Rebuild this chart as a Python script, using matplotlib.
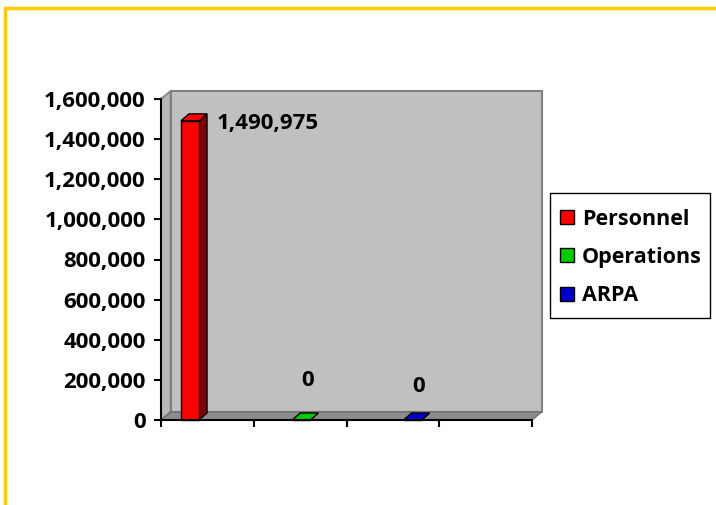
import matplotlib
matplotlib.use("Agg")
import matplotlib.pyplot as plt
from matplotlib.patches import Polygon, Rectangle
from matplotlib.lines import Line2D

# Data
series = ["Personnel", "Operations", "ARPA"]
values = [1490975, 0, 0]
colors = ["#FF0000", "#00CC00", "#0000CC"]
side_colors = ["#800000", "#006600", "#000066"]
yticks = [0, 200000, 400000, 600000, 800000, 1000000, 1200000, 1400000, 1600000]

plt.rcParams["font.family"] = ["Open Sans", "DejaVu Sans"]
plt.rcParams["font.weight"] = "bold"
FS = 16

W, H = 716, 505
fig = plt.figure(figsize=(W / 100, H / 100), dpi=100)

# outer yellow frame (cut off on the right and bottom)
fig.patches.append(Rectangle((5 / W, -0.1), 2.0, (H - 7.5) / H + 0.1,
                             transform=fig.transFigure, fill=False,
                             edgecolor="#FFCC00", linewidth=2.5))

# axes placed in pixels: x 161..532, y 420 (0) .. 99 (1.6M)
x0, x1, ytop, ybot = 161, 532, 99, 420
ax = fig.add_axes([x0 / W, (H - ybot) / H, (x1 - x0) / W, (ybot - ytop) / H])
xmax, ymax = 4, 1600000
ax.set_xlim(0, xmax)
ax.set_ylim(0, ymax)

px_x = (x1 - x0) / xmax      # pixels per x unit
px_y = (ybot - ytop) / ymax  # pixels per y unit

# back wall offset (depth) and bar depth offset, in data units
wx, wy = 9.5 / px_x, 8 / px_y
bx, by = 8 / px_x, 7 / px_y

wall_c, edge_c = "#C0C0C0", "#808080"
# back wall
ax.add_patch(Polygon([(wx, wy), (xmax + wx, wy), (xmax + wx, ymax + wy), (wx, ymax + wy)],
                     closed=True, facecolor=wall_c, edgecolor=edge_c, lw=1.5,
                     clip_on=False, zorder=1))
# side wall
ax.add_patch(Polygon([(0, 0), (wx, wy), (wx, ymax + wy), (0, ymax)],
                     closed=True, facecolor="#B8B8B8", edgecolor=edge_c, lw=1.2,
                     clip_on=False, zorder=1))
# floor
ax.add_patch(Polygon([(0, 0), (xmax, 0), (xmax + wx, wy), (wx, wy)],
                     closed=True, facecolor="#8C8C8C", edgecolor="#707070", lw=1,
                     clip_on=False, zorder=1.5))

# bars
bw = 0.195
label_dy = [0, 40, 34]
for i, (name, v) in enumerate(zip(series, values)):
    left = 0.215 + 1.2 * i
    face = Rectangle((left, 0), bw, v, facecolor=colors[i], edgecolor="black",
                     lw=1, zorder=3, clip_on=False)
    top = Polygon([(left, v), (left + bw, v), (left + bw + bx, v + by), (left + bx, v + by)],
                  closed=True, facecolor=colors[i], edgecolor="black", lw=1,
                  zorder=3, clip_on=False)
    side = Polygon([(left + bw, 0), (left + bw + bx, by), (left + bw + bx, v + by), (left + bw, v)],
                   closed=True, facecolor=side_colors[i], edgecolor="black", lw=1,
                   zorder=3, clip_on=False)
    for p in (side, face, top):
        ax.add_patch(p)
    if v > 0:
        ax.annotate(f"{v:,}", (left + bw + bx, v), xytext=(10, -3),
                    textcoords="offset pixels", ha="left", va="center",
                    fontsize=FS, fontweight="bold", zorder=5)
    else:
        ax.annotate(f"{v:,}", (left + bw / 2 + bx / 2, v), xytext=(2, label_dy[i]),
                    textcoords="offset pixels", ha="center", va="center",
                    fontsize=FS, fontweight="bold", zorder=5)

# axes styling
for s in ("top", "right"):
    ax.spines[s].set_visible(False)
for s in ("left", "bottom"):
    ax.spines[s].set_linewidth(1.5)
    ax.spines[s].set_zorder(4)
ax.patch.set_visible(False)
ax.set_yticks(yticks)
ax.set_yticklabels([f"{t:,}" for t in yticks])
ax.set_xticks(range(xmax + 1))
ax.set_xticklabels([])
ax.tick_params(axis="y", length=5, width=1.5, labelsize=FS, pad=6)
ax.tick_params(axis="x", length=5, width=1.5)
for lab in ax.get_yticklabels():
    lab.set_fontweight("bold")

# legend: frame drawn separately so the padding can differ per side
lx, ly, lw_, lh = 550, 193, 160, 125
fig.patches.append(Rectangle((lx / W, (H - ly - lh) / H), lw_ / W, lh / H,
                             transform=fig.transFigure, facecolor="white",
                             edgecolor="black", linewidth=1, zorder=2))
handles = [Line2D([], [], marker="s", linestyle="none", markersize=10,
                  markerfacecolor=c, markeredgecolor="black", markeredgewidth=1)
           for c in colors]
leg = fig.legend(handles, series, loc="center left",
                 bbox_to_anchor=((lx + 8) / W, (H - ly - lh / 2 - 2) / H),
                 frameon=False, prop={"size": 15.5, "weight": "bold"},
                 labelspacing=0.8, handletextpad=0.25, handlelength=0.85,
                 borderpad=0, borderaxespad=0)
leg.set_zorder(3)

fig.savefig("out.png", dpi=100)
